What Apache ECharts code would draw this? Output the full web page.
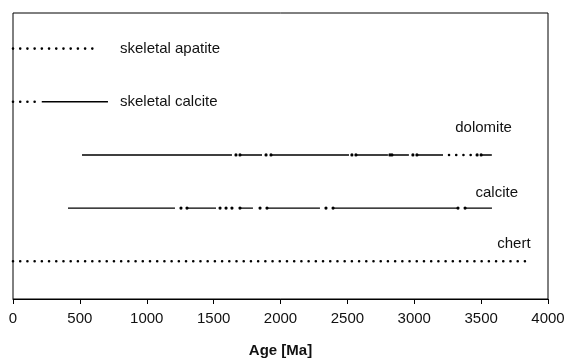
<!DOCTYPE html>
<html><head><meta charset="utf-8">
<script src="https://cdn.jsdelivr.net/npm/echarts@6/dist/echarts.min.js"></script>
<style>html,body{margin:0;padding:0;background:#fff}#c{width:570px;height:363px}</style>
</head><body><div id="c"></div>
<script>
// x tick labels
var xTicks = [0, 500, 1000, 1500, 2000, 2500, 3000, 3500, 4000];
// rows (top to bottom)
var minerals = ['skeletal apatite', 'skeletal calcite', 'dolomite', 'calcite', 'chert'];
// solid ranges [start, end] in Ma
var apatiteSolid = [];
var skelCalciteSolid = [[215, 710]];
var dolomiteSolid = [[516, 1637], [1697, 1862], [1929, 2512], [2564, 2803], [2833, 2960], [3020, 3215], [3500, 3580]];
var calciteSolid = [[411, 1211], [1301, 1518], [1697, 1794], [1899, 2295], [2393, 3320], [3380, 3581]];
var chertSolid = [];
// dotted ranges [start, end] in Ma
var apatiteDotted = [[0, 630]];
var skelCalciteDotted = [[0, 170]];
var dolomiteDotted = [[3260, 3460]];
var calciteDotted = [];
var chertDotted = [[0, 3850]];
// single dots in Ma
var apatiteDots = [];
var skelCalciteDots = [];
var dolomiteDots = [1667, 1697, 1892, 1929, 2534, 2564, 2818, 2833, 2990, 3020, 3470, 3500];
var calciteDots = [1256, 1301, 1548, 1593, 1637, 1697, 1847, 1899, 2340, 2393, 3327, 3380];
var chertDots = [];

var solids = [apatiteSolid, skelCalciteSolid, dolomiteSolid, calciteSolid, chertSolid];
var dotteds = [apatiteDotted, skelCalciteDotted, dolomiteDotted, calciteDotted, chertDotted];
var dots = [apatiteDots, skelCalciteDots, dolomiteDots, calciteDots, chertDots];

var FONT = '"Liberation Sans", Arial, Helvetica, sans-serif';
var INK = '#000';
function rowY(i) { return minerals.length - 1 - i; }

var series = [];
function segData(list, y) {
  var d = [];
  list.forEach(function (s, k) {
    if (k > 0) d.push([null, null]);
    d.push([s[0], y]); d.push([s[1], y]);
  });
  return d;
}
minerals.forEach(function (m, i) {
  var y = rowY(i);
  if (solids[i].length) series.push({
    type: 'line', data: segData(solids[i], y), showSymbol: false, connectNulls: false,
    silent: true, animation: false,
    lineStyle: { color: INK, width: 1.4, opacity: 1 }
  });
  if (dotteds[i].length) series.push({
    type: 'line', data: segData(dotteds[i], y), showSymbol: false, connectNulls: false,
    silent: true, animation: false,
    lineStyle: { color: INK, width: 2.6, type: [0.01, 7.2], cap: 'round', opacity: 1 }
  });
  if (dots[i].length) series.push({
    type: 'scatter', data: dots[i].map(function (v) { return [v, y]; }),
    symbol: 'circle', symbolSize: 3.2, silent: true, animation: false,
    itemStyle: { color: INK, opacity: 1 }
  });
});

// labels
var labelSpecs = [
  { i: 0, x: 800, dy: 0, align: 'left' },
  { i: 1, x: 800, dy: 0, align: 'left' },
  { i: 2, x: 3730, dy: 0.5, align: 'right' },
  { i: 3, x: 3776, dy: 0.29, align: 'right' },
  { i: 4, x: 3870, dy: 0.32, align: 'right' }
];
series.push({
  type: 'scatter', symbolSize: 0, silent: true, animation: false,
  itemStyle: { opacity: 1 },
  data: labelSpecs.map(function (s) {
    return {
      value: [s.x, rowY(s.i) + s.dy],
      label: { show: true, position: 'inside', formatter: minerals[s.i], align: s.align, verticalAlign: 'middle',
        fontFamily: FONT, fontSize: 15, color: '#111', textBorderWidth: 0 }
    };
  })
});

var chart = echarts.init(document.getElementById('c'), null, { renderer: 'canvas' });
chart.setOption({
  backgroundColor: '#fff',
  animation: false,
  grid: { left: 13, right: 22, top: 13, bottom: 62, show: true, borderColor: INK, borderWidth: 1, containLabel: false },
  xAxis: {
    type: 'value', min: 0, max: 4000, interval: 500,
    name: 'Age [Ma]', nameLocation: 'middle', nameGap: 44,
    nameTextStyle: { fontFamily: FONT, fontSize: 15, fontWeight: 'bold', color: '#111' },
    axisLine: { show: true, onZero: false, lineStyle: { color: INK, width: 1 } },
    axisTick: { show: true, inside: false, length: 5, lineStyle: { color: INK } },
    axisLabel: { fontFamily: FONT, fontSize: 15, color: '#111', margin: 12,
      formatter: function (v) { return xTicks.indexOf(v) >= 0 ? String(v) : ''; } },
    splitLine: { show: false }
  },
  yAxis: {
    type: 'value', min: -0.71, max: 4.67, show: false, splitLine: { show: false }
  },
  series: series
});
</script></body></html>
